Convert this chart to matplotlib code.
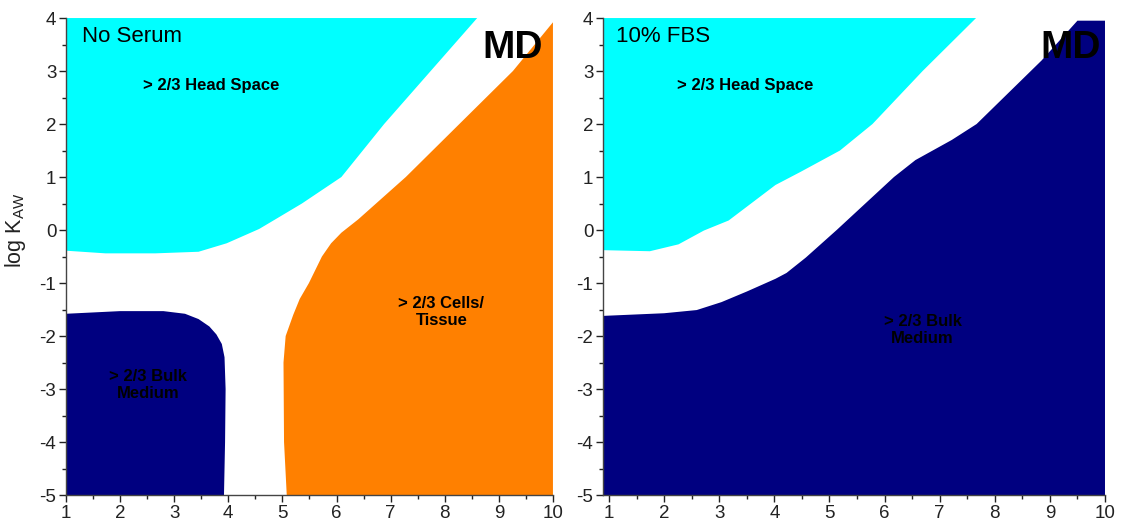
import matplotlib
matplotlib.use("Agg")
import matplotlib.pyplot as plt
from matplotlib.ticker import MultipleLocator

plt.rcParams['font.family'] = ['Liberation Sans', 'DejaVu Sans']
plt.rcParams['axes.unicode_minus'] = False

CYAN = '#00FFFF'
ORANGE = '#FF8000'
NAVY = '#000080'

# left panel: no serum
ns_head_x = [1, 8.6, 6.88, 6.09, 5.36, 4.9, 4.57, 3.97, 3.45, 2.65, 1.73, 1]
ns_head_y = [4, 4, 2, 1, 0.5, 0.22, 0.02, -0.25, -0.41, -0.44, -0.44, -0.39]
ns_cell_x = [10, 9.26, 8.27, 7.28, 6.4, 6.09, 5.9, 5.73, 5.49, 5.32, 5.2, 5.06, 5.02, 5.03, 5.08, 10]
ns_cell_y = [3.92, 3, 2, 1, 0.2, -0.05, -0.25, -0.5, -1, -1.3, -1.6, -2, -2.5, -4, -5, -5]
ns_bulk_x = [1, 2, 2.8, 3.2, 3.45, 3.65, 3.78, 3.88, 3.93, 3.95, 3.94, 3.92, 1]
ns_bulk_y = [-1.58, -1.53, -1.53, -1.58, -1.68, -1.82, -1.97, -2.15, -2.4, -3, -4, -5, -5]

# right panel: 10% FBS
fbs_head_x = [0.89, 7.66, 6.69, 5.78, 5.19, 4.48, 4.02, 3.17, 2.72, 2.26, 1.74, 0.89]
fbs_head_y = [4, 4, 3, 2, 1.5, 1.1, 0.85, 0.18, -0.01, -0.27, -0.4, -0.38]
fbs_bulk_x = [0.89, 2.0, 2.59, 3.04, 3.5, 4.02, 4.22, 4.57, 5.13, 6.17, 6.56, 7.22,
              7.67, 8.85, 9.5, 10, 10, 0.89]
fbs_bulk_y = [-1.62, -1.57, -1.51, -1.36, -1.16, -0.92, -0.81, -0.52, 0, 1.0, 1.32, 1.7,
              2, 3.2, 3.95, 3.95, -5, -5]

fig = plt.figure(figsize=(11.28, 5.32), dpi=100)
ax1 = fig.add_axes([0.0585, 0.0695, 0.4317, 0.8966])
ax2 = fig.add_axes([0.5346, 0.0695, 0.445, 0.8966])


def style(ax, xmin):
    ax.set_xlim(xmin, 10)
    ax.set_ylim(-5, 4)
    for s in ['top', 'right']:
        ax.spines[s].set_visible(False)
    for s in ['left', 'bottom']:
        ax.spines[s].set_color('#444444')
        ax.spines[s].set_linewidth(1.0)
    ax.xaxis.set_minor_locator(MultipleLocator(0.5))
    ax.yaxis.set_major_locator(MultipleLocator(1))
    ax.yaxis.set_minor_locator(MultipleLocator(0.5))
    ax.set_xticks(range(1, 11))
    ax.tick_params(which='major', direction='out', length=5, width=1,
                   labelsize=13.5, colors='#222222', pad=2)
    ax.tick_params(which='minor', direction='out', length=3, width=1, colors='#222222')


style(ax1, 1)
ax1.fill(ns_head_x, ns_head_y, color=CYAN, lw=0)
ax1.fill(ns_cell_x, ns_cell_y, color=ORANGE, lw=0)
ax1.fill(ns_bulk_x, ns_bulk_y, color=NAVY, lw=0)
ax1.text(1.3, 3.66, 'No Serum', fontsize=16, va='center', ha='left')
ax1.text(9.26, 3.43, 'MD', fontsize=28, fontweight='bold', ha='center', va='center')
ax1.text(3.68, 2.72, '> 2/3 Head Space', fontsize=12, fontweight='bold', ha='center', va='center')
ax1.text(2.52, -2.92, '> 2/3 Bulk\nMedium', fontsize=12, fontweight='bold',
         ha='center', va='center', linespacing=1.2)
ax1.text(7.94, -1.55, '> 2/3 Cells/\nTissue', fontsize=12, fontweight='bold',
         ha='center', va='center', linespacing=1.2)
ax1.set_ylabel(r'log K$_{\mathregular{AW}}$', fontsize=15.5, color='#222222')
ax1.yaxis.set_label_coords(-0.078, 0.555)

style(ax2, 0.89)
ax2.fill(fbs_head_x, fbs_head_y, color=CYAN, lw=0)
ax2.fill(fbs_bulk_x, fbs_bulk_y, color=NAVY, lw=0)
ax2.text(1.12, 3.66, '10% FBS', fontsize=16, va='center', ha='left')
ax2.text(9.37, 3.43, 'MD', fontsize=28, fontweight='bold', ha='center', va='center')
ax2.text(3.47, 2.72, '> 2/3 Head Space', fontsize=12, fontweight='bold', ha='center', va='center')
ax2.text(6.69, -1.89, '> 2/3 Bulk\nMedium', fontsize=12, fontweight='bold',
         ha='center', va='center', linespacing=1.2)

fig.savefig('out.png', dpi=100)
